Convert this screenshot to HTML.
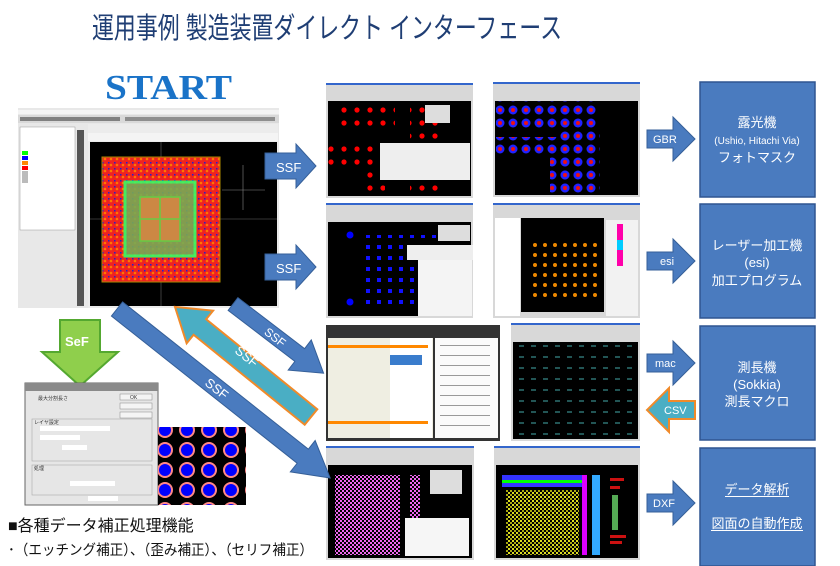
<!DOCTYPE html>
<html><head><meta charset="utf-8"><style>
html,body{margin:0;padding:0;background:#fff;width:840px;height:566px;overflow:hidden}
svg{display:block}
text{font-family:"Liberation Sans","Noto Sans CJK JP",sans-serif}
text.serif{font-family:"Liberation Serif",serif}
</style></head><body>
<svg width="840" height="566" viewBox="0 0 840 566" xmlns="http://www.w3.org/2000/svg">
<defs>
<pattern id="reddot" width="13" height="13" patternUnits="userSpaceOnUse"><circle cx="6" cy="6" r="2.6" fill="#f00"/></pattern>
<pattern id="bluedot" width="13" height="13" patternUnits="userSpaceOnUse"><circle cx="6" cy="6" r="4.5" fill="#22f"/><circle cx="6" cy="6" r="2" fill="#e11"/></pattern>
<pattern id="bluesq" width="11" height="11" patternUnits="userSpaceOnUse"><rect x="3" y="3" width="4" height="4" fill="#11f"/></pattern>
<pattern id="orgdot" width="10" height="10" patternUnits="userSpaceOnUse"><circle cx="5" cy="5" r="2" fill="#e80"/></pattern>
<pattern id="faint" width="12" height="11" patternUnits="userSpaceOnUse"><rect x="3" y="4" width="5" height="2" fill="#255"/></pattern>
<pattern id="mag" width="4" height="4" patternUnits="userSpaceOnUse"><rect width="2" height="2" fill="#e6e"/><rect x="2" y="2" width="2" height="2" fill="#e6e"/></pattern>
<pattern id="yel" width="4" height="4" patternUnits="userSpaceOnUse"><rect width="2" height="2" fill="#dd2"/><rect x="2" y="2" width="2" height="2" fill="#aa1"/></pattern>
<pattern id="chip" width="6" height="6" patternUnits="userSpaceOnUse"><rect width="6" height="6" fill="#e22"/><circle cx="3" cy="3" r="1.3" fill="#f70"/><rect x="0" y="0" width="1.5" height="1.5" fill="#22c"/></pattern>
<pattern id="trace" width="22" height="20" patternUnits="userSpaceOnUse"><rect width="22" height="20" fill="#000"/><circle cx="11" cy="10" r="8" fill="#f88"/><circle cx="11" cy="10" r="6" fill="#00f"/></pattern>
</defs>

<!-- Title -->
<text x="92" y="38" font-size="29" fill="#1f3e74" textLength="470" lengthAdjust="spacingAndGlyphs">運用事例  製造装置ダイレクト インターフェース</text>

<!-- START -->
<text class="serif" x="105" y="99" font-weight="bold" font-size="35" fill="#1a73c8" textLength="127" lengthAdjust="spacingAndGlyphs">START</text>

<!-- left main screenshot -->
<rect x="18" y="108" width="261" height="200" fill="#e8e8e8"/>
<rect x="18" y="110" width="261" height="4" fill="#f4f4f4"/>
<rect x="18" y="115" width="261" height="8" fill="#d9d9d9"/>
<g fill="#444"><rect x="20" y="117" width="100" height="4" opacity=".6"/><rect x="125" y="117" width="150" height="4" opacity=".5"/></g>
<rect x="20" y="127" width="55" height="103" fill="#fff" stroke="#999" stroke-width=".5"/>
<rect x="22" y="151" width="6" height="4" fill="#0f0"/><rect x="22" y="156" width="6" height="4" fill="#00f"/><rect x="22" y="161" width="6" height="4" fill="#f80"/><rect x="22" y="166" width="6" height="4" fill="#f00"/><rect x="22" y="171" width="6" height="12" fill="#bbb"/>
<rect x="77" y="130" width="7" height="176" fill="#555"/>
<rect x="88" y="124" width="190" height="184" fill="#ececec"/>
<rect x="88" y="133" width="190" height="8" fill="#f4f4f4"/>
<rect x="90" y="142" width="187" height="164" fill="#000"/>
<line x1="90" y1="219" x2="277" y2="219" stroke="#666" stroke-width=".6"/>
<line x1="161" y1="142" x2="161" y2="306" stroke="#666" stroke-width=".6"/>
<line x1="243" y1="165" x2="243" y2="210" stroke="#888" stroke-width=".6"/><line x1="222" y1="190" x2="265" y2="190" stroke="#888" stroke-width=".6"/>
<rect x="102" y="157" width="118" height="125" fill="url(#chip)" stroke="#a80" stroke-width="1"/>
<rect x="125" y="182" width="70" height="74" fill="#7a5" stroke="#3f6" stroke-width="3" opacity=".9"/>
<rect x="140" y="197" width="40" height="44" fill="#c84" stroke="#6c4" stroke-width="1.5"/>
<line x1="160" y1="197" x2="160" y2="241" stroke="#6c4" stroke-width="1.5"/><line x1="140" y1="219" x2="180" y2="219" stroke="#6c4" stroke-width="1.5"/>

<!-- SSF right arrows from left screenshot -->
<g fill="#4a7bbf" stroke="#355f98" stroke-width="1">
<polygon points="265,153 296,153 296,144 316,166 296,188 296,179 265,179"/>
<polygon points="265,254 296,254 296,245 316,267 296,289 296,280 265,280"/>
</g>
<text x="276" y="172" font-size="13" fill="#fff">SSF</text>
<text x="276" y="273" font-size="13" fill="#fff">SSF</text>

<!-- screenshots grid -->
<g>
<rect x="326" y="83" width="147" height="115" fill="#d8d8d8"/><rect x="326" y="83" width="147" height="2" fill="#36c"/>
<rect x="328" y="101" width="143" height="95" fill="#000"/>
<rect x="335" y="104" width="60" height="25" fill="url(#reddot)"/><rect x="410" y="104" width="30" height="90" fill="url(#reddot)"/><rect x="328" y="140" width="70" height="25" fill="url(#reddot)"/><rect x="360" y="160" width="25" height="35" fill="url(#reddot)"/>
<rect x="425" y="105" width="25" height="18" fill="#ddd"/><rect x="380" y="143" width="90" height="37" fill="#eee"/>
<rect x="493" y="82" width="147" height="115" fill="#d8d8d8"/><rect x="493" y="82" width="147" height="2" fill="#36c"/>
<rect x="495" y="101" width="143" height="94" fill="#000"/>
<rect x="496" y="101" width="80" height="28" fill="url(#bluedot)"/><rect x="558" y="101" width="40" height="28" fill="url(#bluedot)"/><rect x="496" y="137" width="75" height="20" fill="url(#bluedot)"/><rect x="550" y="150" width="25" height="45" fill="url(#bluedot)"/><rect x="560" y="130" width="40" height="65" fill="url(#bluedot)"/>
<rect x="326" y="203" width="147" height="115" fill="#d8d8d8"/><rect x="326" y="203" width="147" height="2" fill="#36c"/>
<rect x="328" y="222" width="143" height="94" fill="#000"/>
<rect x="365" y="235" width="85" height="75" fill="url(#bluesq)"/><circle cx="350" cy="235" r="3.5" fill="#00f"/><circle cx="350" cy="302" r="3.5" fill="#00f"/>
<rect x="438" y="225" width="32" height="16" fill="#ddd"/><rect x="407" y="245" width="66" height="15" fill="#eee"/><rect x="418" y="260" width="54" height="56" fill="#f4f4f4"/>
<rect x="493" y="203" width="147" height="115" fill="#d8d8d8"/><rect x="493" y="203" width="147" height="2" fill="#36c"/>
<rect x="495" y="218" width="25" height="98" fill="#fff"/><rect x="521" y="218" width="83" height="94" fill="#000"/>
<rect x="528" y="238" width="75" height="62" fill="url(#orgdot)"/>
<rect x="606" y="220" width="32" height="96" fill="#f2f2f2"/><rect x="617" y="224" width="6" height="42" fill="#f0a"/><rect x="617" y="240" width="6" height="10" fill="#0cf"/>
<rect x="326" y="325" width="174" height="116" fill="#333"/>
<rect x="328" y="338" width="105" height="100" fill="#efeee2"/><rect x="390" y="338" width="42" height="100" fill="#fff"/>
<rect x="328" y="345" width="100" height="3" fill="#f80"/><rect x="328" y="421" width="100" height="3" fill="#f80"/>
<rect x="390" y="355" width="32" height="10" fill="#3a7ccc"/>
<rect x="435" y="338" width="63" height="100" fill="#fafafa"/>
<g fill="#999"><rect x="440" y="345" width="50" height="1"/><rect x="440" y="355" width="50" height="1"/><rect x="440" y="365" width="50" height="1"/><rect x="440" y="375" width="50" height="1"/><rect x="440" y="385" width="50" height="1"/><rect x="440" y="395" width="50" height="1"/><rect x="440" y="405" width="50" height="1"/><rect x="440" y="415" width="50" height="1"/><rect x="440" y="425" width="50" height="1"/></g>
<rect x="511" y="323" width="129" height="118" fill="#d8d8d8"/><rect x="511" y="323" width="129" height="2" fill="#36c"/>
<rect x="513" y="342" width="125" height="97" fill="#000"/><rect x="513" y="345" width="125" height="90" fill="url(#faint)"/>
<rect x="326" y="446" width="148" height="114" fill="#d8d8d8"/><rect x="326" y="446" width="148" height="2" fill="#36c"/>
<rect x="328" y="465" width="144" height="93" fill="#000"/>
<rect x="335" y="475" width="65" height="80" fill="url(#mag)"/><rect x="345" y="475" width="55" height="6" fill="url(#mag)"/><rect x="410" y="475" width="10" height="80" fill="url(#mag)"/>
<rect x="430" y="470" width="32" height="24" fill="#ddd"/><rect x="405" y="518" width="64" height="38" fill="#f6f6f6"/>
<rect x="494" y="446" width="146" height="114" fill="#d8d8d8"/><rect x="494" y="446" width="146" height="2" fill="#36c"/>
<rect x="496" y="465" width="142" height="93" fill="#000"/>
<rect x="502" y="475" width="80" height="12" fill="#33f"/><rect x="502" y="480" width="80" height="3" fill="#0f0"/>
<rect x="506" y="490" width="73" height="65" fill="url(#yel)"/><rect x="582" y="475" width="5" height="80" fill="#d0f"/><rect x="592" y="475" width="8" height="80" fill="#3af"/>
<g fill="#c11"><rect x="610" y="478" width="14" height="3"/><rect x="610" y="486" width="10" height="3"/><rect x="610" y="535" width="16" height="3"/><rect x="610" y="541" width="12" height="3"/></g>
<rect x="612" y="495" width="6" height="35" fill="#5a5"/>
</g>

<!-- diagonal arrows -->
<g transform="translate(117,309) rotate(38.4)">
<polygon points="0,-9 237,-9 237,-20 272,0 237,20 237,9 0,9" fill="#4a7bbf" stroke="#355f98" stroke-width="1"/>
<text x="115" y="5" font-size="13" fill="#fff">SSF</text>
</g>
<g transform="translate(233,304) rotate(37.4)">
<polygon points="0,-8 84,-8 84,-19 114,0 84,19 84,8 0,8" fill="#4a7bbf" stroke="#355f98" stroke-width="1"/>
<text x="42" y="5" font-size="12" fill="#fff">SSF</text>
</g>
<g transform="translate(311,417) rotate(219)">
<polygon points="0,-10 143,-10 143,-21 175,0 143,21 143,10 0,10" fill="#4aaec4" stroke="#f08a2a" stroke-width="2"/>
</g>
<text transform="translate(234,352) rotate(39)" font-size="13" fill="#fff">SSF</text>

<!-- SeF green arrow -->
<polygon points="60,320 100,320 100,352 118,352 80,386 42,352 60,352" fill="#8fcf4c" stroke="#54a830" stroke-width="2"/>
<text x="65" y="346" font-size="13" font-weight="bold" fill="#fff">SeF</text>

<!-- dialog -->
<rect x="25" y="383" width="133" height="122" fill="#e6e6e6" stroke="#666" stroke-width="1"/>
<rect x="25" y="383" width="133" height="8" fill="#8a8a8a"/>
<rect x="120" y="394" width="32" height="6" fill="#f4f4f4" stroke="#888" stroke-width=".5"/><rect x="120" y="403" width="32" height="6" fill="#f4f4f4" stroke="#888" stroke-width=".5"/><rect x="120" y="412" width="32" height="6" fill="#f4f4f4" stroke="#888" stroke-width=".5"/>
<rect x="32" y="419" width="120" height="42" fill="none" stroke="#aaa" stroke-width=".6"/>
<rect x="40" y="426" width="70" height="5" fill="#fff"/><rect x="40" y="435" width="40" height="5" fill="#fff"/><rect x="62" y="445" width="25" height="5" fill="#fff"/>
<rect x="32" y="465" width="120" height="30" fill="none" stroke="#aaa" stroke-width=".6"/>
<rect x="70" y="481" width="45" height="5" fill="#fff"/><rect x="88" y="496" width="30" height="5" fill="#fff"/>
<g font-size="5" fill="#333"><text x="38" y="400">最大分割長さ</text><text x="130" y="399">OK</text><text x="34" y="424">レイヤ設定</text><text x="34" y="470">処理</text></g>

<!-- trace image -->
<rect x="158" y="427" width="88" height="78" fill="url(#trace)"/>

<!-- right arrows -->
<g stroke="#355f98" stroke-width="1">
<polygon points="647,130 673,130 673,117 695,139 673,161 673,148 647,148" fill="#4a7bbf"/>
<polygon points="647,252 673,252 673,239 695,261 673,283 673,270 647,270" fill="#4a7bbf"/>
<polygon points="647,354 673,354 673,341 695,363 673,385 673,372 647,372" fill="#4a7bbf"/>
<polygon points="647,494 673,494 673,481 695,503 673,525 673,512 647,512" fill="#4a7bbf"/>
</g>
<polygon points="695,401 669,401 669,388 647,410 669,432 669,419 695,419" fill="#4aaec4" stroke="#f08a2a" stroke-width="2"/>
<g font-size="11" fill="#fff">
<text x="653" y="143">GBR</text><text x="660" y="265">esi</text><text x="655" y="367">mac</text><text x="664" y="414">CSV</text><text x="653" y="507">DXF</text>
</g>

<!-- right boxes -->
<g fill="#4a7bbf" stroke="#2f5590" stroke-width="1.5">
<rect x="700" y="82" width="115" height="115"/>
<rect x="700" y="204" width="115" height="114"/>
<rect x="700" y="326" width="115" height="114"/>
<rect x="700" y="448" width="115" height="118"/>
</g>
<g fill="#fff" text-anchor="middle">
<text x="757" y="127" font-size="13">露光機</text>
<text x="757" y="144" font-size="10">(Ushio, Hitachi Via)</text>
<text x="757" y="162" font-size="13">フォトマスク</text>
<text x="757" y="250" font-size="13">レーザー加工機</text>
<text x="757" y="267" font-size="13">(esi)</text>
<text x="757" y="285" font-size="13">加工プログラム</text>
<text x="757" y="372" font-size="13">測長機</text>
<text x="757" y="389" font-size="13">(Sokkia)</text>
<text x="757" y="406" font-size="13">測長マクロ</text>
<text x="757" y="494" font-size="13">データ解析</text>
<text x="757" y="528" font-size="13">図面の自動作成</text>
</g>
<rect x="725" y="496" width="64" height="1" fill="#fff"/><rect x="711" y="530" width="92" height="1" fill="#fff"/>

<!-- bottom text -->
<text x="8" y="531" font-size="16" fill="#111">■各種データ補正処理機能</text>
<text x="8" y="555" font-size="14.5" fill="#111" textLength="305" lengthAdjust="spacingAndGlyphs">･（エッチング補正）、（歪み補正）、（セリフ補正）</text>
</svg>
</body></html>
